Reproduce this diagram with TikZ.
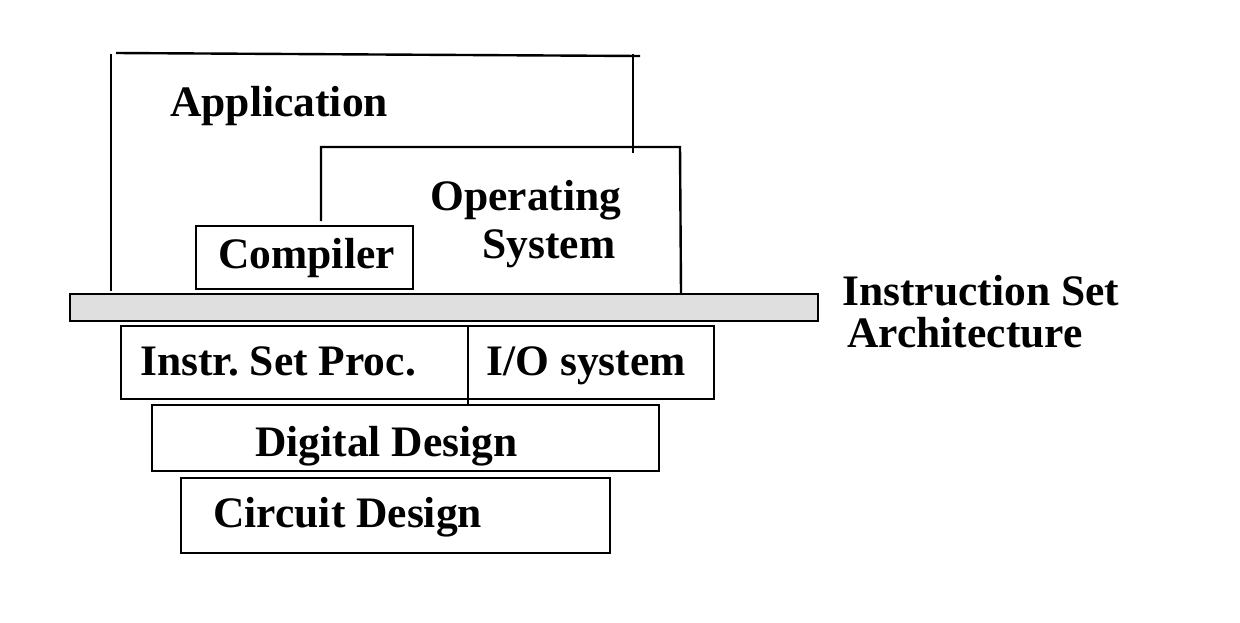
\documentclass[tikz,border=0pt]{standalone}
\usepackage{fontspec}
\setmainfont{Liberation Serif}
\usepackage{tikz}
\usetikzlibrary{positioning}
\frenchspacing
\tikzset{lbl/.style={inner sep=0pt, anchor=base west, font=\bfseries\fontsize{21.75}{26}\selectfont}}
\tikzset{frame/.style={draw=black, line width=1.2pt}}
\tikzset{isa/.style={frame, fill=gray!25}}

\begin{document}
\begin{tikzpicture}[x=0.5pt, y=-0.5pt]
        \useasboundingbox (0,0) rectangle (1240,622);
        % software layers
        \draw[frame] (111,291) -- (111,54);
        \draw[frame] (116,53) -- (640,56);
        \draw[frame] (633,54) -- (633,153);
        \draw[frame] (321,221) -- (321,147) -- (680,147) -- (681,293);
        \draw[frame] (196,226) rectangle (413,289);
        % isa bar
        \draw[isa] (70,294) rectangle (818,321);
        % hardware layers
        \draw[frame] (121,326) rectangle (714,399);
        \draw[frame] (468,326) -- (468,405);
        \draw[frame] (152,405) rectangle (659,471);
        \draw[frame] (181,478) rectangle (610,553);
        \node (app) [lbl] at (170,116) {Application};
        \node (os1) [lbl] at (430,210) {Operating};
        \node (os2) [lbl] at (482,258) {System};
        \node (comp) [lbl] at (218,268) {Compiler};
        \node (isa1) [lbl] at (842,305) {Instruction Set};
        \node (isa2) [lbl] at (847,347) {Architecture};
        \node (proc) [lbl] at (140,375) {Instr.\ Set Proc.};
        \node (io) [lbl] at (486,375) {I/O system};
        \node (dig) [lbl] at (255,456) {Digital Design};
        \node (circ) [lbl] at (213,527) {Circuit Design};
\end{tikzpicture}
\end{document}
